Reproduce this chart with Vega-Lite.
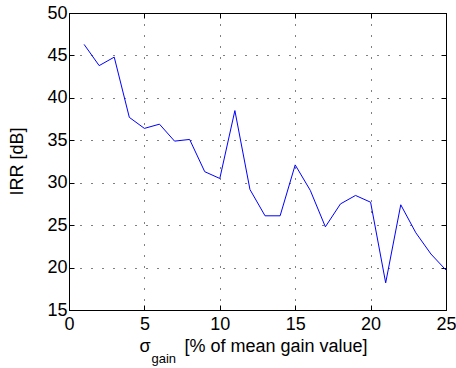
{
  "$schema": "https://vega.github.io/schema/vega-lite/v6.json",
  "width": 377,
  "height": 297,
  "autosize": {"type": "none"},
  "padding": {"left": 69, "top": 13, "right": 10, "bottom": 58},
  "background": "white",
  "config": {
    "font": "Liberation Sans",
    "view": {"stroke": "black", "strokeWidth": 1},
    "axis": {
      "domainColor": "black",
      "domainWidth": 1,
      "tickColor": "black",
      "tickWidth": 1,
      "tickSize": -5,
      "labelColor": "black",
      "labelFont": "Liberation Sans",
      "labelFontSize": 18,
      "titleColor": "black",
      "titleFont": "Liberation Sans",
      "titleFontSize": 18,
      "titleFontWeight": "normal",
      "gridColor": "black",
      "gridOpacity": 1,
      "gridWidth": 1,
      "gridDash": [1, 10]
    }
  },
  "data": {
    "values": [
      {"sigma": 1, "irr": 46.3},
      {"sigma": 2, "irr": 43.8},
      {"sigma": 3, "irr": 44.8},
      {"sigma": 4, "irr": 37.7},
      {"sigma": 5, "irr": 36.4},
      {"sigma": 6, "irr": 36.9},
      {"sigma": 7, "irr": 34.9},
      {"sigma": 8, "irr": 35.1},
      {"sigma": 9, "irr": 31.3},
      {"sigma": 10, "irr": 30.5},
      {"sigma": 11, "irr": 38.5},
      {"sigma": 12, "irr": 29.2},
      {"sigma": 13, "irr": 26.1},
      {"sigma": 14, "irr": 26.1},
      {"sigma": 15, "irr": 32.1},
      {"sigma": 16, "irr": 29.1},
      {"sigma": 17, "irr": 24.8},
      {"sigma": 18, "irr": 27.5},
      {"sigma": 19, "irr": 28.5},
      {"sigma": 20, "irr": 27.7},
      {"sigma": 21, "irr": 18.2},
      {"sigma": 22, "irr": 27.4},
      {"sigma": 23, "irr": 24.1},
      {"sigma": 24, "irr": 21.6},
      {"sigma": 25, "irr": 19.7}
    ]
  },
  "layer": [
    {
      "mark": {"type": "line", "color": "#0000ff", "strokeWidth": 1},
      "encoding": {
        "x": {
          "field": "sigma", "type": "quantitative",
          "scale": {"domain": [0, 25], "nice": false, "zero": false},
          "axis": {
            "orient": "bottom",
            "values": [0, 5, 10, 15, 20, 25],
            "grid": true,
            "labelPadding": 10,
            "labelFlush": false,
            "title": "[% of mean gain value]",
            "titleX": 115,
            "titleY": 41,
            "titleAlign": "left",
            "titleAnchor": null,
            "titleBaseline": "alphabetic"
          }
        },
        "y": {
          "field": "irr", "type": "quantitative",
          "scale": {"domain": [15, 50], "nice": false, "zero": false},
          "axis": {
            "orient": "left",
            "values": [15, 20, 25, 30, 35, 40, 45, 50],
            "grid": true,
            "labelPadding": 7,
            "labelFlush": false,
            "title": "IRR [dB]",
            "titleAngle": 270,
            "titleX": -47,
            "titleY": 148,
            "titleAlign": "center",
            "titleBaseline": "alphabetic"
          }
        }
      }
    },
    {
      "mark": {"type": "line", "strokeOpacity": 0},
      "encoding": {
        "x": {
          "field": "sigma", "type": "quantitative",
          "axis": {
            "orient": "top",
            "values": [0, 5, 10, 15, 20, 25],
            "grid": false,
            "labels": false,
            "title": "gain",
            "titleFontSize": 13,
            "titleX": 82,
            "titleY": 349,
            "titleAlign": "left",
            "titleBaseline": "alphabetic"
          }
        },
        "y": {
          "field": "irr", "type": "quantitative",
          "axis": {
            "orient": "right",
            "values": [15, 20, 25, 30, 35, 40, 45, 50],
            "grid": false,
            "labels": false,
            "title": "σ",
            "titleAngle": 0,
            "titleX": -307,
            "titleY": 338,
            "titleAlign": "left",
            "titleBaseline": "alphabetic"
          }
        }
      }
    }
  ],
  "resolve": {"axis": {"x": "independent", "y": "independent"}}
}
